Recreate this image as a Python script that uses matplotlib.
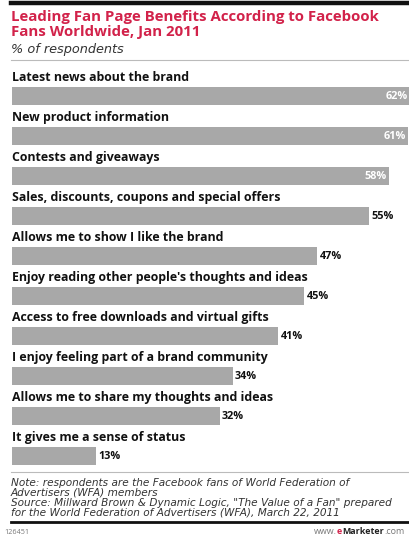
import matplotlib
matplotlib.use('Agg')
import matplotlib.pyplot as plt
from matplotlib.lines import Line2D

# data
categories = [
    'Latest news about the brand',
    'New product information',
    'Contests and giveaways',
    'Sales, discounts, coupons and special offers',
    'Allows me to show I like the brand',
    "Enjoy reading other people's thoughts and ideas",
    'Access to free downloads and virtual gifts',
    'I enjoy feeling part of a brand community',
    'Allows me to share my thoughts and ideas',
    'It gives me a sense of status',
]
values = [62, 61, 58, 55, 47, 45, 41, 34, 32, 13]
inside_labels = [62, 61, 58]   # values printed in white inside the bar

title = 'Leading Fan Page Benefits According to Facebook\nFans Worldwide, Jan 2011'
subtitle = '% of respondents'
note = ('Note: respondents are the Facebook fans of World Federation of\n'
        'Advertisers (WFA) members\n'
        'Source: Millward Brown & Dynamic Logic, "The Value of a Fan" prepared\n'
        'for the World Federation of Advertisers (WFA), March 22, 2011')
chart_id = '126451'

W, H = 410, 546
fig = plt.figure(figsize=(W / 100, H / 100), dpi=100)
fig.patch.set_facecolor('white')


def fx(x):
    return x / W


def fy(y):
    return 1 - y / H


FONT = 'Open Sans'
IFONT = 'DejaVu Sans'
red = '#d2224a'
bar_color = '#a8a8a8'

# header
fig.add_artist(Line2D([fx(11), fx(410)], [fy(3), fy(3)], color='#111111', lw=3.2))
fig.text(fx(11), fy(24.5), title, color=red, fontsize=10.8, fontweight='bold',
         family=FONT, va='center', ha='left', linespacing=1.08)
fig.text(fx(11), fy(50), subtitle, color='#333333', fontsize=9.3, style='italic',
         family=IFONT, va='center', ha='left')
fig.add_artist(Line2D([fx(11), fx(410)], [fy(60), fy(60)], color='#bbbbbb', lw=0.8))

# bars: 6.5 px per percent, 40 px per row, first row centred at y=96
left, top, bottom = 12, 60, 472
ax = fig.add_axes([fx(left), fy(bottom), fx(W - left), (bottom - top) / H])
xmax = (W - left) / 6.5
ax.set_xlim(0, xmax)
ax.set_ylim((bottom - 96) / 40, -(96 - top) / 40)
ax.axis('off')

rows = list(range(len(categories)))
ax.barh(rows, values, height=0.44, color=bar_color, edgecolor='none')
for i, (cat, v) in enumerate(zip(categories, values)):
    ax.text(0, i - 0.46, cat, fontsize=8.9, fontweight='bold', family=FONT,
            color='#111111', va='center', ha='left')
    if v in inside_labels:
        ax.annotate(f'{v}%', (min(v, xmax), i), xytext=(-1.5, 0),
                    textcoords='offset points', fontsize=7.8, fontweight='bold',
                    family=FONT, color='white', va='center', ha='right')
    else:
        ax.annotate(f'{v}%', (v, i), xytext=(1.5, -0.5), textcoords='offset points',
                    fontsize=7.8, fontweight='bold', family=FONT, color='#111111',
                    va='center', ha='left')

# footer
fig.add_artist(Line2D([fx(11), fx(410)], [fy(472), fy(472)], color='#bbbbbb', lw=0.8))
fig.text(fx(11), fy(497.5), note, color='#333333', fontsize=7.6, style='italic',
         family=IFONT, va='center', ha='left', linespacing=1.0)
fig.add_artist(Line2D([fx(11), fx(410)], [fy(522), fy(522)], color='#111111', lw=2))
fig.text(fx(4), fy(532), chart_id, color='#777777', fontsize=5.2, family=FONT,
         va='center', ha='left')

# www.eMarketer.com, pieces placed one after another
renderer = fig.canvas.get_renderer()
pieces = [('www.', '#777777', 'normal'), ('e', red, 'bold'),
          ('Marketer', '#222222', 'bold'), ('.com', '#777777', 'normal')]
xpos = 314
for txt, col, wt in pieces:
    t = fig.text(fx(xpos), fy(532), txt, color=col, fontsize=6.4, fontweight=wt,
                 family=FONT, va='center', ha='left')
    xpos += t.get_window_extent(renderer).width

fig.savefig('out.png', dpi=100, facecolor='white')
